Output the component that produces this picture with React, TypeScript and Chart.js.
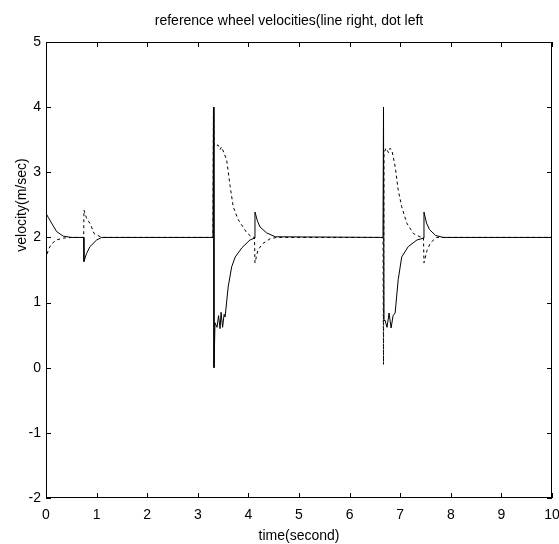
import React, { useEffect, useRef } from "react";
import { Chart, registerables } from "chart.js";

Chart.register(...registerables);

// right wheel (solid line)
const rightT = [0, 0.05, 0.11, 0.21, 0.34, 0.5, 0.745, 0.75, 0.8, 0.87, 1.0, 1.1, 3.3, 3.31, 3.32, 3.34, 3.38, 3.41, 3.44, 3.46, 3.49, 3.52, 3.54, 3.6, 3.67, 3.74, 3.87, 4.03, 4.12, 4.13, 4.18, 4.23, 4.36, 4.53, 6.66, 6.67, 6.68, 6.7, 6.74, 6.78, 6.82, 6.86, 6.9, 6.96, 7.03, 7.16, 7.33, 7.46, 7.47, 7.52, 7.58, 7.7, 7.85, 10];
const rightV = [2.37, 2.3, 2.22, 2.09, 2.02, 2.0, 2.0, 1.63, 1.75, 1.86, 1.96, 2.0, 2.0, 4.0, 0.0, 0.69, 0.62, 0.8, 0.6, 0.85, 0.62, 0.82, 0.78, 1.24, 1.55, 1.7, 1.84, 1.96, 1.99, 2.39, 2.25, 2.16, 2.07, 2.01, 2.0, 4.0, 0.72, 0.73, 0.62, 0.84, 0.61, 0.8, 0.84, 1.35, 1.7, 1.86, 1.96, 1.99, 2.39, 2.22, 2.12, 2.03, 2.0, 2.0];

// left wheel (dotted line)
const leftT = [0, 0.0, 0.05, 0.11, 0.2, 0.35, 0.5, 0.745, 0.75, 0.8, 0.88, 0.95, 1.1, 3.3, 3.31, 3.32, 3.4, 3.44, 3.47, 3.57, 3.64, 3.7, 3.8, 3.97, 4.06, 4.12, 4.13, 4.19, 4.29, 4.43, 4.56, 6.66, 6.67, 6.68, 6.72, 6.77, 6.8, 6.84, 6.9, 6.96, 7.03, 7.13, 7.26, 7.39, 7.46, 7.47, 7.53, 7.6, 7.72, 10];
const leftV = [0, 1.68, 1.82, 1.9, 1.96, 1.99, 2.0, 2.0, 2.42, 2.3, 2.2, 2.06, 2.0, 2.0, 4.0, 3.4, 3.42, 3.35, 3.39, 3.19, 2.78, 2.47, 2.27, 2.07, 2.01, 2.0, 1.61, 1.81, 1.91, 1.98, 2.0, 2.0, 0.05, 3.3, 3.37, 3.3, 3.37, 3.32, 3.09, 2.73, 2.47, 2.22, 2.06, 2.01, 2.0, 1.61, 1.8, 1.92, 2.0, 2.0];

const xTicks = [0, 1, 2, 3, 4, 5, 6, 7, 8, 9, 10];
const yTicks = [-2, -1, 0, 1, 2, 3, 4, 5];

const titleText = "reference wheel velocities(line right, dot left";
const xLabel = "time(second)";
const yLabel = "velocity(m/sec)";

const FONT = "'Liberation Sans', Arial, sans-serif";

const framePlugin = {
  id: "frame",
  afterDraw(chart: any) {
    const { ctx, chartArea: a, scales } = chart;
    ctx.save();
    ctx.strokeStyle = "#000";
    ctx.lineWidth = 1;
    ctx.strokeRect(Math.round(a.left) + 0.5, Math.round(a.top) + 0.5, Math.round(a.right - a.left) - 1, Math.round(a.bottom - a.top) - 1);
    const tl = 5;
    ctx.beginPath();
    xTicks.forEach((v) => {
      const px = Math.round(scales.x.getPixelForValue(v)) + 0.5;
      ctx.moveTo(px, a.bottom);
      ctx.lineTo(px, a.bottom - tl);
      ctx.moveTo(px, a.top);
      ctx.lineTo(px, a.top + tl);
    });
    yTicks.forEach((v) => {
      const py = Math.round(scales.y.getPixelForValue(v)) + 0.5;
      ctx.moveTo(a.left, py);
      ctx.lineTo(a.left + tl, py);
      ctx.moveTo(a.right, py);
      ctx.lineTo(a.right - tl, py);
    });
    ctx.stroke();

    ctx.fillStyle = "#000";
    ctx.font = `14px ${FONT}`;
    ctx.textAlign = "center";
    ctx.textBaseline = "middle";
    ctx.fillText(titleText, 289, 21);
    ctx.fillText(xLabel, (a.left + a.right) / 2, 536);
    ctx.translate(22, 205);
    ctx.rotate(-Math.PI / 2);
    ctx.fillText(yLabel, 0, 0);
    ctx.restore();
  },
};

export default function App() {
  const ref = useRef<HTMLCanvasElement | null>(null);
  useEffect(() => {
    if (!ref.current) return;
    const toPts = (t: number[], v: number[]) => t.map((x, i) => ({ x, y: v[i] }));
    const chart = new Chart(ref.current, {
      type: "scatter",
      data: {
        datasets: [
          {
            label: "right",
            data: toPts(rightT, rightV),
            showLine: true,
            borderColor: "#000",
            borderWidth: 1,
            pointRadius: 0,
            tension: 0,
          },
          {
            label: "left",
            data: toPts(leftT, leftV),
            showLine: true,
            borderColor: "#000",
            borderWidth: 1,
            borderDash: [3, 3],
            pointRadius: 0,
            tension: 0,
          },
        ],
      },
      options: {
        animation: false,
        responsive: false,
        maintainAspectRatio: false,
        layout: { padding: { top: 42, right: 7, left: 0, bottom: 0 } },
        plugins: { legend: { display: false }, tooltip: { enabled: false }, title: { display: false } },
        scales: {
          x: {
            type: "linear",
            min: 0,
            max: 10,
            afterBuildTicks: (s: any) => { s.ticks = xTicks.map((value) => ({ value })); },
            ticks: { color: "#000", font: { family: FONT, size: 14 }, padding: 9, maxRotation: 0, autoSkip: false },
            grid: { display: false, drawTicks: false },
            border: { display: false },
            afterFit: (s: any) => { s.height = 46; s.paddingLeft = 0; s.paddingRight = 0; },
          },
          y: {
            type: "linear",
            min: -2,
            max: 5,
            afterBuildTicks: (s: any) => { s.ticks = yTicks.map((value) => ({ value })); },
            ticks: { color: "#000", font: { family: FONT, size: 14 }, padding: 5, autoSkip: false },
            grid: { display: false, drawTicks: false },
            border: { display: false },
            afterFit: (s: any) => { s.width = 46; s.paddingTop = 0; s.paddingBottom = 0; },
          },
        },
      },
      plugins: [framePlugin],
    });
    return () => chart.destroy();
  }, []);
  return (
    <div style={{ position: "fixed", left: 0, top: 0, width: 559, height: 544, background: "#fff" }}>
      <canvas ref={ref} width={559} height={544} style={{ width: 559, height: 544 }} />
    </div>
  );
}
